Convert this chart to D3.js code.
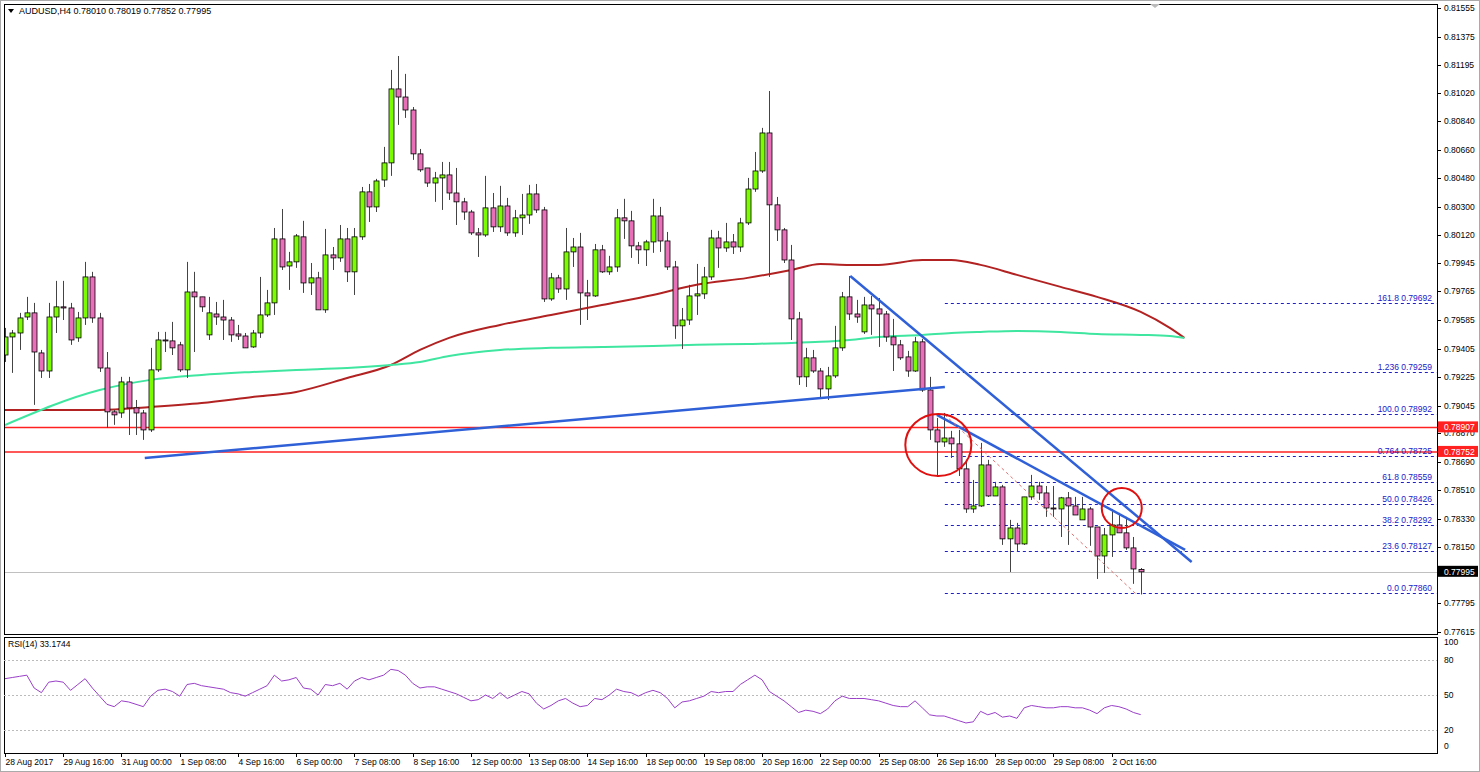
<!DOCTYPE html>
<html><head><meta charset="utf-8">
<script src="https://cdn.jsdelivr.net/npm/d3@7"></script>
<style>body{margin:0;background:#fff}svg{display:block}text{font-family:"Liberation Sans",Arial,sans-serif}</style>
</head><body><svg id="c" width="1480" height="772"></svg>
<script>
// OHLC per H4 candle [open, high, low, close]
const candles = [
[0.79364,0.79535,0.79320,0.79478],[0.79478,0.79522,0.79251,0.79503],[0.79503,0.79630,0.79396,0.79598],[0.79604,0.79731,0.79585,0.79630],
[0.79630,0.79693,0.79049,0.79383],[0.79377,0.79396,0.79219,0.79263],[0.79263,0.79693,0.79219,0.79604],[0.79604,0.79832,0.79503,0.79668],
[0.79668,0.79832,0.79585,0.79661],[0.79661,0.79693,0.79428,0.79459],[0.79472,0.79636,0.79447,0.79598],[0.79598,0.79952,0.79554,0.79857],
[0.79857,0.79889,0.79567,0.79598],[0.79598,0.79630,0.79257,0.79282],[0.79282,0.79383,0.78904,0.79005],[0.79005,0.79017,0.78923,0.78986],
[0.78998,0.79226,0.78967,0.79194],[0.79194,0.79226,0.78859,0.79030],[0.79030,0.79080,0.78859,0.78998],[0.78998,0.79017,0.78828,0.78891],
[0.78891,0.79409,0.78878,0.79270],[0.79270,0.79510,0.79257,0.79459],[0.79459,0.79510,0.79383,0.79453],[0.79453,0.79573,0.79364,0.79409],
[0.79428,0.79447,0.79257,0.79270],[0.79270,0.79952,0.79219,0.79762],[0.79762,0.79889,0.79383,0.79731],[0.79731,0.79731,0.79636,0.79668],
[0.79491,0.79731,0.79459,0.79630],[0.79623,0.79699,0.79554,0.79604],[0.79604,0.79712,0.79459,0.79585],[0.79585,0.79604,0.79447,0.79491],
[0.79497,0.79554,0.79459,0.79484],[0.79484,0.79503,0.79409,0.79409],[0.79415,0.79522,0.79409,0.79503],[0.79503,0.79857,0.79472,0.79617],
[0.79617,0.79775,0.79604,0.79693],[0.79693,0.80166,0.79617,0.80097],[0.80097,0.80286,0.79901,0.79920],[0.79926,0.80015,0.79775,0.79952],
[0.79952,0.80128,0.79914,0.80116],[0.80110,0.80211,0.79756,0.79819],[0.79819,0.79945,0.79743,0.79851],[0.79851,0.79889,0.79649,0.79649],
[0.79649,0.80160,0.79630,0.79996],[0.79996,0.80046,0.79901,0.79977],[0.79977,0.80185,0.79952,0.80097],[0.80097,0.80166,0.79825,0.79889],
[0.79889,0.80166,0.79743,0.80110],[0.80110,0.80425,0.80091,0.80394],[0.80394,0.80444,0.80204,0.80299],[0.80299,0.80476,0.80267,0.80463],
[0.80469,0.80678,0.80425,0.80577],[0.80577,0.81164,0.80495,0.81044],[0.81044,0.81252,0.80817,0.80993],[0.80993,0.81139,0.80861,0.80911],
[0.80911,0.80930,0.80596,0.80634],[0.80634,0.80665,0.80520,0.80533],[0.80545,0.80545,0.80425,0.80450],[0.80450,0.80520,0.80331,0.80482],
[0.80482,0.80583,0.80280,0.80501],[0.80501,0.80583,0.80343,0.80387],[0.80387,0.80545,0.80185,0.80331],[0.80331,0.80356,0.80217,0.80267],
[0.80267,0.80280,0.80122,0.80135],[0.80135,0.80166,0.79983,0.80122],[0.80122,0.80495,0.80110,0.80293],[0.80293,0.80387,0.80141,0.80173],
[0.80173,0.80432,0.80141,0.80305],[0.80305,0.80356,0.80116,0.80135],[0.80135,0.80280,0.80110,0.80230],[0.80230,0.80381,0.80122,0.80248],
[0.80248,0.80438,0.80192,0.80381],[0.80381,0.80444,0.80261,0.80280],[0.80280,0.80299,0.79699,0.79718],[0.79718,0.79882,0.79706,0.79851],
[0.79851,0.79870,0.79756,0.79781],[0.79781,0.80166,0.79712,0.80015],[0.80015,0.80103,0.79920,0.80046],[0.80046,0.80135,0.79554,0.79756],
[0.79756,0.79838,0.79585,0.79737],[0.79737,0.80065,0.79731,0.80028],[0.80028,0.80059,0.79882,0.79889],[0.79889,0.79990,0.79870,0.79920],
[0.79920,0.80286,0.79889,0.80230],[0.80230,0.80350,0.80097,0.80211],[0.80211,0.80274,0.79977,0.80053],[0.80053,0.80078,0.79939,0.80028],
[0.80028,0.80091,0.79926,0.80078],[0.80078,0.80350,0.80009,0.80242],[0.80242,0.80299,0.80015,0.80084],[0.80084,0.80141,0.79901,0.79920],
[0.79920,0.79958,0.79466,0.79548],[0.79548,0.79661,0.79402,0.79585],[0.79585,0.79807,0.79554,0.79737],[0.79737,0.79939,0.79617,0.79750],
[0.79750,0.79920,0.79718,0.79857],[0.79857,0.80154,0.79838,0.80103],[0.80103,0.80148,0.79914,0.80040],[0.80040,0.80198,0.80015,0.80078],
[0.80078,0.80128,0.80002,0.80046],[0.80046,0.80230,0.80015,0.80198],[0.80198,0.80482,0.80185,0.80412],[0.80412,0.80646,0.80394,0.80526],
[0.80526,0.80798,0.80514,0.80766],[0.80766,0.81031,0.79857,0.80312],[0.80312,0.80362,0.80084,0.80154],[0.80154,0.80166,0.79945,0.79964],
[0.79964,0.80059,0.79459,0.79592],[0.79592,0.79636,0.79175,0.79226],[0.79226,0.79409,0.79162,0.79346],[0.79346,0.79396,0.79251,0.79263],
[0.79263,0.79282,0.79093,0.79150],[0.79150,0.79289,0.79080,0.79232],[0.79232,0.79548,0.79219,0.79409],[0.79409,0.79762,0.79390,0.79731],
[0.79731,0.79863,0.79585,0.79623],[0.79623,0.79712,0.79567,0.79604],[0.79510,0.79731,0.79497,0.79680],[0.79680,0.79737,0.79491,0.79655],
[0.79655,0.79724,0.79415,0.79623],[0.79623,0.79642,0.79447,0.79478],[0.79478,0.79592,0.79263,0.79428],[0.79428,0.79459,0.79333,0.79346],
[0.79352,0.79390,0.79226,0.79263],[0.79263,0.79478,0.79257,0.79447],[0.79447,0.79466,0.79131,0.79143],[0.79143,0.79226,0.78828,0.78891],
[0.78891,0.78967,0.78594,0.78815],[0.78815,0.78998,0.78784,0.78840],[0.78840,0.78885,0.78714,0.78803],[0.78803,0.78891,0.78600,0.78645],
[0.78645,0.78702,0.78367,0.78392],[0.78392,0.78575,0.78367,0.78411],[0.78411,0.78809,0.78405,0.78670],[0.78670,0.78702,0.78468,0.78474],
[0.78474,0.78563,0.78474,0.78531],[0.78531,0.78544,0.78165,0.78203],[0.78203,0.78323,0.77994,0.78272],[0.78272,0.78304,0.78121,0.78171],
[0.78171,0.78468,0.78165,0.78468],[0.78468,0.78607,0.78449,0.78537],[0.78537,0.78563,0.78449,0.78493],[0.78493,0.78537,0.78342,0.78398],
[0.78398,0.78537,0.78342,0.78392],[0.78392,0.78468,0.78215,0.78462],[0.78462,0.78499,0.78165,0.78411],[0.78411,0.78468,0.78354,0.78354],
[0.78323,0.78468,0.78323,0.78392],[0.78392,0.78405,0.78159,0.78278],[0.78278,0.78278,0.77950,0.78095],[0.78095,0.78272,0.77988,0.78228],
[0.78228,0.78392,0.78089,0.78291],[0.78291,0.78367,0.78241,0.78241],[0.78241,0.78342,0.78133,0.78146],[0.78146,0.78215,0.77919,0.78013],
[0.78010,0.78019,0.77852,0.77995]
];
const rsi = [64,65,66,67,56,52,61,62,61,54,59,64,56,49,42,40,45,44,42,40,49,54,55,53,49,59,60,58,57,56,55,52,51,49,52,55,58,67,62,63,
65,56,55,50,59,58,60,55,62,65,63,65,67,72,71,67,60,56,57,57,55,53,51,48,45,46,50,47,52,47,50,53,51,43,38,41,45,47,43,40,
41,47,46,50,55,53,52,49,52,54,52,47,39,44,45,47,49,53,52,53,53,59,63,67,63,53,49,45,40,35,37,36,34,38,45,49,47,47,47,46,
45,43,41,40,40,45,39,33,32,32,30,28,26,27,36,33,35,31,32,30,39,41,40,39,39,40,40,39,39,37,34,39,41,40,38,35,33.17];
const dateLabels = ["28 Aug 2017","29 Aug 16:00","31 Aug 00:00","1 Sep 08:00","4 Sep 16:00","6 Sep 00:00","7 Sep 08:00","8 Sep 16:00",
"12 Sep 00:00","13 Sep 08:00","14 Sep 16:00","18 Sep 00:00","19 Sep 08:00","20 Sep 16:00","22 Sep 00:00","25 Sep 08:00",
"26 Sep 16:00","28 Sep 00:00","29 Sep 08:00","2 Oct 16:00"];
const priceTicks = [0.81555,0.81375,0.81195,0.81020,0.80840,0.80660,0.80480,0.80300,0.80120,0.79945,0.79765,0.79585,0.79405,0.79225,0.79045,0.78870,0.78690,0.78510,0.78330,0.78150,0.77795,0.77615];
const maIdx = [0,13,20,27,34,40,47,53,57,61,68,75,82,89,95,102,108,112,116,120,126,130,134,139,145,150,156,160,162];
const maRed = [0.79017,0.79017,0.79036,0.79061,0.79099,0.79131,0.79219,0.79301,0.79396,0.79472,0.79554,0.79617,0.79680,0.79743,0.79807,0.79851,0.79901,0.79939,0.79933,0.79933,0.79964,0.79964,0.79933,0.79870,0.79794,0.79731,0.79636,0.79535,0.79472];
const maGreen = [0.78922,0.79143,0.79207,0.79238,0.79257,0.79270,0.79282,0.79301,0.79320,0.79358,0.79396,0.79409,0.79415,0.79421,0.79428,0.79434,0.79440,0.79447,0.79459,0.79478,0.79491,0.79503,0.79510,0.79516,0.79510,0.79497,0.79491,0.79484,0.79472];
const fibLevels = ["161.8","1.236","100.0","0.764","61.8","50.0","38.2","23.6","0.0"];
const fibPrices = [0.79692,0.79259,0.78992,0.78725,0.78559,0.78426,0.78292,0.78127,0.77860];
const hLines = [0.78907,0.78752];
const lastPrice = 0.77995;
const trendLines = [[19.2,0.78714,129.1,0.79162],[116.1,0.79863,163,0.78057],[128,0.78986,162.1,0.78133]];
const dashLine = [129.1,0.78986,155.5,0.77849];
const circles = [[128.2,0.78796,33,31],[153.4,0.78398,20,20]];
const rsiTicks = [100,80,50,20,0];

const svg = d3.select("#c");
const L=4,R=1437,T=4,B=634;
const FS=8.5;
const x = d3.scaleLinear().domain([0,156]).range([5,1140.7]);
const y = d3.scaleLinear().domain([0.77615,0.81555]).range([632,8]);
const yr = d3.scaleLinear().domain([0,100]).range([753.3,636.7]);

svg.append("rect").attr("x",0.5).attr("y",0.5).attr("width",1479).attr("height",771).attr("fill","none").attr("stroke","#aaa");
svg.append("rect").attr("x",L+.5).attr("y",T+.5).attr("width",R-L).attr("height",B-T).attr("fill","none").attr("stroke","#000");
svg.append("rect").attr("x",L+.5).attr("y",637.5).attr("width",R-L).attr("height",116).attr("fill","none").attr("stroke","#000");
svg.append("clipPath").attr("id","cp").append("rect").attr("x",L+1).attr("y",T+1).attr("width",R-L-1).attr("height",B-T-1);

const pa = svg.append("g");
priceTicks.forEach(p=>{
  pa.append("line").attr("x1",R).attr("x2",R+4).attr("y1",Math.round(y(p))+.5).attr("y2",Math.round(y(p))+.5).attr("stroke","#000");
  pa.append("text").attr("x",1444).attr("y",y(p)+3).attr("font-size",FS).text(p.toFixed(5));
});
const g = svg.append("g").attr("clip-path","url(#cp)");

const maLine = d3.line().x((d,i)=>x(maIdx[i])).y(d=>y(d)).curve(d3.curveMonotoneX);
g.append("path").attr("d",maLine(maRed)).attr("fill","none").attr("stroke","#b22222").attr("stroke-width",2);
g.append("path").attr("d",maLine(maGreen)).attr("fill","none").attr("stroke","#3ee6a0").attr("stroke-width",2);

hLines.forEach(p=>g.append("line").attr("x1",L).attr("x2",R).attr("y1",y(p)).attr("y2",y(p)).attr("stroke","#ff2020").attr("stroke-width",1.5));
g.append("line").attr("x1",L).attr("x2",R).attr("y1",Math.round(y(lastPrice))+.5).attr("y2",Math.round(y(lastPrice))+.5).attr("stroke","#c0c0c0");

fibPrices.forEach((p,i)=>{
  g.append("line").attr("x1",x(129.1)).attr("x2",R).attr("y1",Math.round(y(p))+.5).attr("y2",Math.round(y(p))+.5)
   .attr("stroke","#2020c8").attr("stroke-dasharray","3,3");
  g.append("text").attr("x",1432).attr("y",y(p)-2).attr("text-anchor","end").attr("font-size",FS).attr("fill","#2020c8")
   .text(fibLevels[i]+" "+p.toFixed(5));
});

const w=5;
candles.forEach((c,i)=>{
  const [o,h,l,cl]=c, cx=Math.round(x(i))+.5, up=cl>=o;
  g.append("line").attr("x1",cx).attr("x2",cx).attr("y1",y(h)).attr("y2",y(l)).attr("stroke","#444");
  const top=y(Math.max(o,cl)), bot=y(Math.min(o,cl));
  g.append("rect").attr("x",cx-w/2).attr("y",top).attr("width",w).attr("height",Math.max(1,bot-top))
   .attr("fill",up?"#7cfc00":"#e86fb8").attr("stroke","#000").attr("stroke-width",0.8);
});

trendLines.forEach(t=>g.append("line").attr("x1",x(t[0])).attr("y1",y(t[1])).attr("x2",x(t[2])).attr("y2",y(t[3]))
  .attr("stroke","#3060d8").attr("stroke-width",2.5));
g.append("line").attr("x1",x(dashLine[0])).attr("y1",y(dashLine[1])).attr("x2",x(dashLine[2])).attr("y2",y(dashLine[3]))
  .attr("stroke","#e07070").attr("stroke-dasharray","3,3");
circles.forEach(c=>g.append("ellipse").attr("cx",x(c[0])).attr("cy",y(c[1])).attr("rx",c[2]).attr("ry",c[3])
  .attr("fill","none").attr("stroke","#e01010").attr("stroke-width",2));

function tag(p,bg){
  const yy=y(p);
  pa.append("rect").attr("x",R+1).attr("y",yy-6).attr("width",40).attr("height",11).attr("fill",bg);
  pa.append("text").attr("x",1444).attr("y",yy+3).attr("font-size",FS).attr("fill","#fff").text(p.toFixed(5));
}
hLines.forEach(p=>tag(p,"#ff2020"));
tag(lastPrice,"#000");

svg.append("path").attr("d","M8,9 L14,9 L11,13 Z").attr("fill","#000");
svg.append("text").attr("x",19).attr("y",14).attr("font-size",FS+0.5).text("AUDUSD,H4  0.78010 0.78019 0.77852 0.77995");
svg.append("path").attr("d","M1150,4 L1160,4 L1155,8 Z").attr("fill","#bbb");

[80,50,20].forEach(v=>svg.append("line").attr("x1",L).attr("x2",R).attr("y1",Math.round(yr(v))+.5).attr("y2",Math.round(yr(v))+.5)
  .attr("stroke","#bbb").attr("stroke-dasharray","2,2"));
svg.append("path").attr("d",d3.line().x((d,i)=>x(i)).y(d=>yr(d))(rsi)).attr("fill","none").attr("stroke","#9a3fc8").attr("stroke-width",1);
svg.append("text").attr("x",8).attr("y",647).attr("font-size",FS).text("RSI(14) 33.1744");
rsiTicks.forEach(v=>{
  const yy = v===100?642:(v===0?746:yr(v));
  svg.append("text").attr("x",1444).attr("y",yy+3).attr("font-size",FS).text(v);
});

dateLabels.forEach((s,k)=>{
  const xx=Math.round(x(k*8))+.5;
  svg.append("line").attr("x1",xx).attr("x2",xx).attr("y1",753).attr("y2",757).attr("stroke","#000");
  svg.append("text").attr("x",xx).attr("y",765).attr("font-size",FS).text(s);
});
</script></body></html>
